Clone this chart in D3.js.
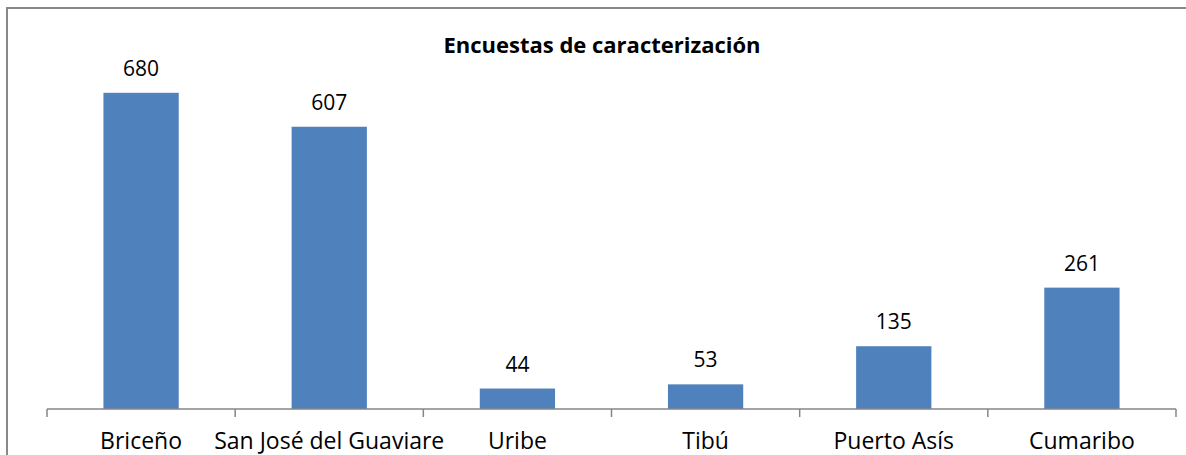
<!DOCTYPE html>
<html>
<head>
<meta charset="utf-8">
<script src="https://cdn.jsdelivr.net/npm/d3@7"></script>
<style>
  html, body { margin: 0; padding: 0; background: #fff; overflow: hidden; }
  svg { display: block; font-family: "Open Sans", Lato, sans-serif; }
</style>
</head>
<body>
<div id="viewportContainer"></div>
<script>
/* --- データ --- */
const categories = ["Briceño", "San José del Guaviare", "Uribe", "Tibú", "Puerto Asís", "Cumaribo"];
const values = [680, 607, 44, 53, 135, 261];
const chartTitle = "Encuestas de caracterización";

/* --- ビューポート --- */
const viewport = {width: 1186, height: 455};
const plot = {left: 47, right: 1176, top: 37, bottom: 409};

const svg = d3.select("#viewportContainer")
    .append("svg")
    .attr("width", viewport.width)
    .attr("height", viewport.height);

// 外枠
svg.append("rect")
    .attr("x", 7)
    .attr("y", 8)
    .attr("width", viewport.width + 20)
    .attr("height", viewport.height + 20)
    .attr("fill", "none")
    .attr("stroke", "#888888")
    .attr("stroke-width", 2);

/*--- スケール ---*/
const xScale = d3.scaleBand()
    .domain(categories)
    .range([plot.left, plot.right])
    .paddingInner(0.6)
    .paddingOuter(0.3);

const yScale = d3.scaleLinear()
    .domain([0, 800])
    .range([plot.bottom, plot.top]);

// 区切り目盛り用
const boundScale = d3.scaleLinear()
    .domain([0, categories.length])
    .range([plot.left, plot.right]);

/*--- 棒 ---*/
svg.append("g").selectAll("rect")
    .data(values)
    .join("rect")
    .attr("x", (d, i) => xScale(categories[i]))
    .attr("y", d => yScale(d))
    .attr("width", xScale.bandwidth())
    .attr("height", d => yScale(0) - yScale(d))
    .attr("fill", "#4F81BD");

/*--- 値ラベル ---*/
svg.append("g").selectAll("text")
    .data(values)
    .join("text")
    .attr("x", (d, i) => xScale(categories[i]) + xScale.bandwidth() / 2)
    .attr("y", d => yScale(d) - 17)
    .attr("text-anchor", "middle")
    .attr("font-size", 21)
    .attr("fill", "#000")
    .text(d => d);

/*--- 軸 ---*/
const axisG = svg.append("g");
axisG.append("line")
    .attr("x1", plot.left)
    .attr("x2", plot.right)
    .attr("y1", plot.bottom)
    .attr("y2", plot.bottom)
    .attr("stroke", "#868686")
    .attr("stroke-width", 1.5);

axisG.selectAll(".tick")
    .data(d3.range(categories.length + 1))
    .join("line")
    .attr("class", "tick")
    .attr("x1", d => boundScale(d))
    .attr("x2", d => boundScale(d))
    .attr("y1", plot.bottom)
    .attr("y2", plot.bottom + 8)
    .attr("stroke", "#868686")
    .attr("stroke-width", 1.5);

axisG.selectAll(".cat")
    .data(categories)
    .join("text")
    .attr("class", "cat")
    .attr("x", d => xScale(d) + xScale.bandwidth() / 2)
    .attr("y", 449)
    .attr("text-anchor", "middle")
    .attr("font-size", 23)
    .attr("fill", "#000")
    .text(d => d);

/*--- タイトル ---*/
svg.append("text")
    .attr("x", 602)
    .attr("y", 53)
    .attr("text-anchor", "middle")
    .attr("font-size", 22)
    .attr("font-weight", "bold")
    .attr("fill", "#000")
    .text(chartTitle);
</script>
</body>
</html>
